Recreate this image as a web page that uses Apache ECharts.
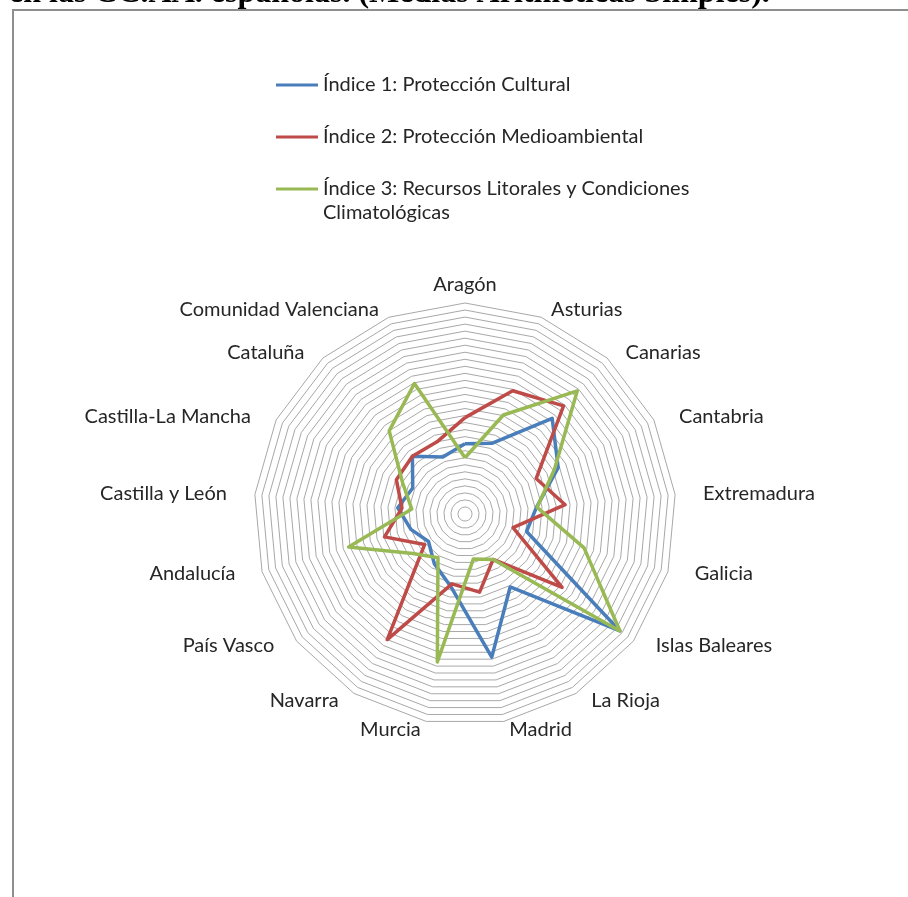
<!DOCTYPE html>
<html>
<head>
<meta charset="utf-8">
<script src="https://cdn.jsdelivr.net/npm/echarts@6/dist/echarts.min.js"></script>
<style>
  html, body { margin: 0; padding: 0; background: #fff; }
  #chart { width: 908px; height: 897px; }
</style>
</head>
<body>
<div id="chart"></div>
<script>
// Comunidades autónomas, clockwise from the top of the radar
const categories = [
  'Aragón', 'Asturias', 'Canarias', 'Cantabria', 'Extremadura', 'Galicia',
  'Islas Baleares', 'La Rioja', 'Madrid', 'Murcia', 'Navarra', 'País Vasco',
  'Andalucía', 'Castilla y León', 'Castilla-La Mancha', 'Cataluña',
  'Comunidad Valenciana'
];

const seriesNames = [
  'Índice 1: Protección Cultural',
  'Índice 2: Protección Medioambiental',
  'Índice 3: Recursos Litorales y Condiciones Climatológicas'
];

const indice1 = [10.0, 10.8, 18.4, 14.8, 10.2, 9.1, 27.6, 12.2, 20.7, 10.6, 8.3, 6.5, 8.0, 9.6, 8.3, 11.1, 8.7];
const indice2 = [13.7, 18.8, 20.8, 11.3, 14.3, 7.1, 17.3, 7.6, 11.3, 10.1, 21.0, 7.2, 11.9, 9.0, 10.9, 11.1, 11.0];
const indice3 = [8.0, 15.1, 23.7, 14.2, 10.3, 17.6, 27.6, 7.6, 6.5, 21.4, 7.3, 9.3, 17.2, 7.6, 9.9, 16.0, 19.9];

const scaleMax = 30;
const ringCount = 30;

const seriesColors = ['#4A7EBB', '#BE4B48', '#98B954'];
const labelFont = 'Lato';
const labelSize = 20;
const textColor = '#262626';

// ECharts lays radar spokes out counter-clockwise; keep the first spoke on top
// and walk the rest backwards so the regions run clockwise.
const n = categories.length;
const order = [0];
for (let i = n - 1; i >= 1; i--) order.push(i);
const reorder = arr => order.map(i => arr[i]);

// Label padding grows with the horizontal component of each spoke
const rich = {};
categories.forEach((c, i) => {
  const a = (i / n) * Math.PI * 2;
  const s = Math.sin(a);
  const pad = Math.round(20 * Math.abs(s));
  let padding = [0, 0, 0, 0];
  if (s > 0.01) padding = [0, 0, 0, pad];
  else if (s < -0.01) padding = [0, pad, 0, 0];
  rich['k' + i] = {
    padding: padding,
    fontFamily: labelFont,
    fontSize: labelSize,
    color: textColor
  };
});

const chart = echarts.init(document.getElementById('chart'));

function legendFor(idx, top) {
  return {
    data: [seriesNames[idx]],
    left: 276,
    top: top,
    padding: 0,
    orient: 'vertical',
    icon: 'rect',
    itemWidth: 42,
    itemHeight: 3,
    selectedMode: false,
    formatter: function (name) {
      if (idx === 2) {
        return '\nÍndice 3: Recursos Litorales y Condiciones\nClimatológicas';
      }
      return name;
    },
    textStyle: {
      fontFamily: labelFont,
      fontSize: labelSize,
      lineHeight: 24,
      color: textColor
    }
  };
}

const option = {
  backgroundColor: '#ffffff',
  animation: false,
  color: seriesColors,
  legend: [legendFor(0, 73), legendFor(1, 125), legendFor(2, 153)],
  radar: {
    center: [465, 514],
    radius: 211,
    startAngle: 90,
    shape: 'polygon',
    splitNumber: ringCount,
    nameGap: 8,
    indicator: reorder(categories).map(c => ({ name: c, min: 0, max: scaleMax })),
    axisName: {
      color: textColor,
      fontFamily: labelFont,
      fontSize: labelSize,
      formatter: function (name) {
        const i = categories.indexOf(name);
        return '{k' + i + '|' + name + '}';
      },
      rich: rich
    },
    axisLine: { show: false },
    axisTick: { show: false },
    axisLabel: { show: false },
    splitArea: { show: false },
    splitLine: { lineStyle: { color: '#a8a8a8', width: 1 } }
  },
  series: [{
    type: 'radar',
    symbol: 'none',
    data: [
      { name: seriesNames[0], value: reorder(indice1), lineStyle: { color: seriesColors[0], width: 3.5 }, itemStyle: { color: seriesColors[0] } },
      { name: seriesNames[1], value: reorder(indice2), lineStyle: { color: seriesColors[1], width: 3.5 }, itemStyle: { color: seriesColors[1] } },
      { name: seriesNames[2], value: reorder(indice3), lineStyle: { color: seriesColors[2], width: 3.5 }, itemStyle: { color: seriesColors[2] } }
    ]
  }],
  graphic: [
    {
      type: 'rect',
      silent: true,
      shape: { x: 13, y: 10, width: 1200, height: 1200 },
      style: { fill: 'none', stroke: '#8f8f8f', lineWidth: 2 }
    },
    {
      type: 'text',
      silent: true,
      x: 9,
      y: -22,
      style: {
        text: 'en las CC.AA. españolas. (Medias Aritméticas Simples).',
        font: 'bold 32px "Liberation Serif"',
        fill: '#000000',
        verticalAlign: 'top'
      }
    }
  ]
};

chart.setOption(option);
</script>
</body>
</html>
